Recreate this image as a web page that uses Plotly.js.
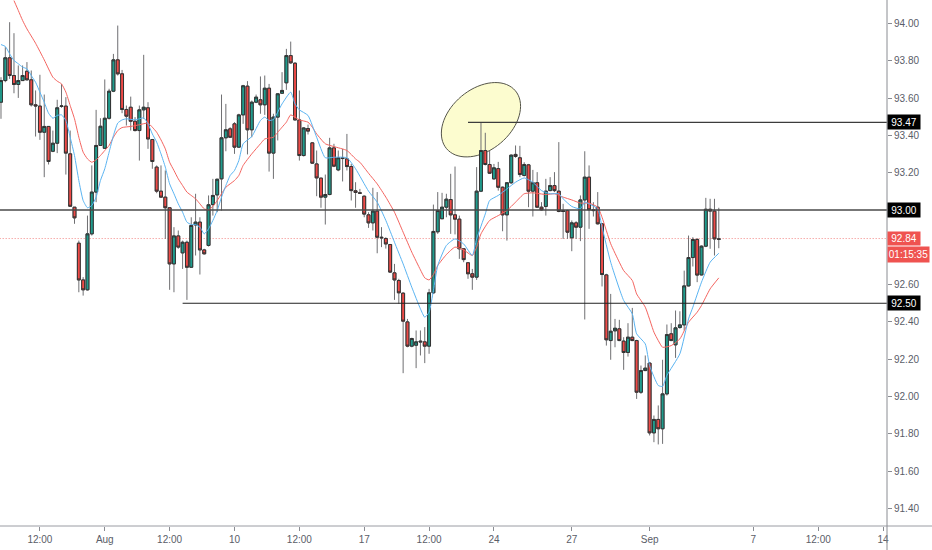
<!DOCTYPE html>
<html><head><meta charset="utf-8">
<script src="https://cdn.plot.ly/plotly-3.0.1.min.js"></script>
<style>html,body{margin:0;padding:0;background:#fff}</style></head>
<body><div id="chart" style="width:932px;height:550px"></div>
<script>
const open=[93.578,93.694,93.816,93.721,93.673,93.694,93.744,93.698,93.564,93.557,
93.417,93.448,93.315,93.358,93.555,93.557,93.301,93.015,92.822,92.625,
92.572,92.872,93.096,93.346,93.331,93.492,93.637,93.805,93.730,93.539,
93.551,93.476,93.426,93.537,93.548,93.378,93.230,93.101,93.069,93.012,
92.711,92.861,92.770,92.827,92.693,92.920,92.935,92.786,92.810,93.029,
93.081,93.167,93.387,93.435,93.462,93.337,93.510,93.664,93.430,93.578,
93.591,93.564,93.653,93.305,93.498,93.626,93.682,93.828,93.787,93.483,
93.292,93.437,93.360,93.247,93.171,93.069,93.083,93.333,93.215,93.280,
93.274,93.233,93.103,93.092,93.074,92.974,92.931,92.994,92.854,92.847,
92.815,92.663,92.622,92.554,92.400,92.270,92.275,92.297,92.293,92.270,
92.556,92.883,92.953,93.015,93.056,92.974,92.951,92.792,92.717,92.658,
92.640,93.101,93.319,93.244,93.167,93.222,93.122,92.974,93.146,93.298,
93.280,93.185,93.242,93.101,93.146,93.015,93.019,93.104,93.131,93.101,
92.997,92.997,92.851,92.931,92.908,93.054,93.176,93.001,93.015,92.926,
92.652,92.300,92.352,92.363,92.297,92.236,92.318,92.300,92.023,92.139,
92.179,91.805,91.877,91.827,92.014,92.336,92.277,92.370,92.384,92.593,
92.745,92.842,92.652,92.806,93.004,92.994,92.845];
const high=[93.712,93.873,94.007,93.948,93.775,93.775,93.793,93.748,93.641,93.725,
93.619,93.448,93.426,93.591,93.676,93.605,93.426,93.015,92.836,92.640,
92.970,93.239,93.537,93.492,93.700,93.650,93.837,93.989,93.751,93.560,
93.608,93.498,93.560,93.832,93.578,93.381,93.239,93.239,93.212,93.015,
92.908,92.890,92.836,92.836,92.961,93.087,92.961,92.792,93.078,93.167,
93.167,93.619,93.569,93.444,93.471,93.516,93.671,93.691,93.587,93.619,
93.716,93.721,93.676,93.516,93.626,93.739,93.864,93.903,93.793,93.641,
93.444,93.458,93.364,93.319,93.172,93.190,93.387,93.355,93.319,93.328,
93.408,93.247,93.149,93.113,93.078,92.988,93.119,93.096,92.908,92.854,
92.818,92.711,92.631,92.559,92.416,92.315,92.354,92.354,92.372,92.577,
93.029,93.096,93.092,93.087,93.194,93.233,92.970,92.792,92.717,92.684,
93.230,93.467,93.414,93.319,93.247,93.258,93.126,93.149,93.298,93.346,
93.344,93.256,93.247,93.215,93.203,93.042,93.167,93.176,93.203,93.364,
93.033,93.001,92.944,92.940,93.078,93.315,93.239,93.042,93.096,92.929,
92.658,92.550,92.416,92.411,92.318,92.393,92.475,92.304,92.166,92.220,
92.184,91.898,91.952,92.197,92.386,92.393,92.461,92.457,92.675,92.863,
92.854,92.849,92.810,93.065,93.060,93.060,93.012];
const low=[93.489,93.685,93.703,93.626,93.601,93.694,93.694,93.555,93.394,93.376,
93.176,93.244,93.310,93.305,93.548,93.190,93.020,92.926,92.559,92.541,
92.568,92.863,93.042,93.346,93.328,93.485,93.632,93.721,93.519,93.453,
93.426,93.421,93.265,93.489,93.328,93.221,93.090,93.065,92.845,92.572,
92.559,92.792,92.684,92.518,92.690,92.756,92.654,92.761,92.804,92.970,
92.988,92.997,93.315,93.387,93.301,93.333,93.462,93.298,93.390,93.573,
93.516,93.510,93.206,93.167,93.373,93.623,93.644,93.784,93.480,93.265,
93.287,93.405,93.247,93.074,93.012,92.922,93.079,93.230,93.208,93.153,
93.212,93.051,93.012,93.087,92.961,92.904,92.890,92.768,92.801,92.793,
92.663,92.518,92.497,92.125,92.264,92.264,92.152,92.220,92.179,92.229,
92.550,92.872,92.953,92.961,92.872,92.869,92.738,92.720,92.631,92.572,
92.625,93.096,93.239,93.194,93.162,93.104,92.886,92.836,93.140,93.280,
93.176,93.180,93.015,92.965,93.012,92.997,92.970,93.101,93.096,92.988,
92.845,92.845,92.779,92.845,92.833,92.413,92.899,92.965,92.922,92.590,
92.273,92.197,92.264,92.297,92.143,92.214,92.297,91.987,92.014,92.136,
91.791,91.755,91.743,91.746,92.005,92.297,92.207,92.363,92.354,92.590,
92.697,92.613,92.649,92.801,92.792,92.756,92.795];
const close=[93.694,93.816,93.721,93.673,93.694,93.721,93.698,93.564,93.558,93.417,
93.448,93.260,93.358,93.548,93.558,93.305,93.020,92.958,92.625,92.572,
92.872,93.096,93.346,93.449,93.492,93.637,93.805,93.730,93.539,93.503,
93.476,93.426,93.537,93.551,93.381,93.260,93.101,93.069,93.012,92.711,
92.861,92.801,92.827,92.693,92.917,92.935,92.786,92.765,93.028,93.078,
93.165,93.387,93.430,93.390,93.337,93.510,93.666,93.430,93.578,93.605,
93.564,93.653,93.305,93.498,93.623,93.641,93.828,93.789,93.483,93.292,
93.440,93.423,93.251,93.172,93.069,93.083,93.333,93.235,93.280,93.276,
93.233,93.104,93.094,93.090,92.978,92.931,92.994,92.854,92.851,92.818,
92.667,92.625,92.556,92.404,92.270,92.311,92.293,92.293,92.270,92.556,
92.885,92.997,93.015,93.058,92.974,92.951,92.792,92.734,92.658,92.640,
93.101,93.319,93.244,93.197,93.226,93.122,92.974,93.146,93.294,93.287,
93.190,93.244,93.101,93.146,93.015,93.001,93.101,93.131,93.104,92.992,
92.992,92.881,92.931,92.908,93.054,93.176,93.001,92.997,92.926,92.654,
92.304,92.350,92.366,92.300,92.236,92.318,92.300,92.023,92.139,92.152,
91.805,91.877,91.827,92.014,92.332,92.300,92.368,92.384,92.593,92.745,
92.842,92.651,92.806,93.004,92.994,92.845,92.843];

const slowBars=[3,4,5,6,8,10,12,13,14,15,16,17,18,19,20,21,22,23,24,25,26,27,28,30,32,34,35,36,37,38,39,40,41,42,43,44,45,46,47,48,49,50,51,52,54,55,56,58,60,61,63,64,65,66,67,69,71,72,73,75,77,80,82,83,85,87,89,91,93,95,97,98,99,100,101,103,105,107,109,110,111,113,115,117,119,121,123,126,128,130,132,134,136,138,139,141,143,144,146,147,149,151,152,153,155,157,159,161,162,164,166];
const slowMA=[94.123,94.070,94.016,93.971,93.894,93.805,93.712,93.691,93.676,93.632,93.560,93.489,93.390,93.310,93.274,93.256,93.269,93.292,93.319,93.346,93.390,93.426,93.442,93.448,93.457,93.466,93.444,93.417,93.376,93.328,93.256,93.212,93.167,93.131,93.096,93.078,93.060,93.033,93.006,93.001,93.019,93.051,93.087,93.122,93.158,93.185,93.239,93.301,93.355,93.381,93.390,93.417,93.444,93.471,93.510,93.483,93.471,93.444,93.408,93.355,93.340,93.319,93.274,93.256,93.197,93.140,93.069,92.988,92.881,92.774,92.679,92.636,92.625,92.654,92.702,92.761,92.801,92.786,92.756,92.801,92.872,92.944,92.970,92.997,93.042,93.087,93.092,93.083,93.087,93.069,93.054,93.037,93.037,93.015,92.961,92.819,92.720,92.675,92.622,92.550,92.479,92.345,92.300,92.264,92.273,92.309,92.398,92.452,92.488,92.577,92.636];
const fastBars=[0,1,2,3,4,5,6,7,8,9,10,11,12,13,14,15,16,17,18,19,20,21,22,23,24,25,26,27,28,29,31,33,34,35,36,37,38,39,40,41,42,43,44,45,46,47,48,49,50,51,52,53,54,55,56,58,60,61,62,63,65,67,68,69,71,73,75,77,80,82,85,87,89,91,93,95,97,98,99,100,101,103,105,107,109,110,112,113,115,117,119,121,123,125,127,129,130,132,134,135,136,138,139,141,144,146,147,149,150,152,153,154,157,159,160,162,164,166];
const fastMA=[93.887,93.877,93.837,93.802,93.784,93.766,93.757,93.721,93.685,93.632,93.578,93.519,93.492,93.507,93.510,93.480,93.390,93.292,93.158,93.051,93.012,93.024,93.069,93.158,93.221,93.310,93.399,93.466,93.483,93.489,93.483,93.494,93.462,93.408,93.364,93.301,93.230,93.140,93.087,93.033,92.988,92.935,92.922,92.922,92.908,92.872,92.899,92.944,92.997,93.069,93.131,93.185,93.212,93.265,93.355,93.394,93.480,93.498,93.480,93.485,93.569,93.632,93.569,93.537,93.507,93.390,93.280,93.283,93.280,93.221,93.101,93.042,92.944,92.827,92.711,92.586,92.470,92.425,92.452,92.568,92.702,92.810,92.845,92.818,92.756,92.845,92.979,93.051,93.078,93.113,93.149,93.172,93.149,93.104,93.087,93.087,93.060,93.019,93.006,93.042,93.033,93.006,92.908,92.720,92.515,92.443,92.336,92.282,92.166,92.059,92.054,92.113,92.229,92.416,92.479,92.613,92.720,92.768];

const yTicks=[91.4,91.6,91.8,92.0,92.2,92.4,92.6,92.8,93.0,93.2,93.4,93.6,93.8,94.0];
const hiddenTicks=[92.8,93.0]; // covered by the price tags in the reference
const xTickBars=[9,24,39,54,69,84,99,114,132,150,174,189,204];
const xTickText=['12:00','Aug','12:00','10','12:00','17','12:00','24','27','Sep','7','12:00','14'];
const levels=[93.47,93.00,92.50];
const levelStart=[108,-1,42];
const lastPrice=92.847, lastLabel='92.84', countdown='01:15:35';

const bars=open.map((_,i)=>i);
const bodyHi=open.map((o,i)=>Math.max(o,close[i]));
const bodyLo=open.map((o,i)=>Math.min(o,close[i]));
const GREEN='#1f9c8d', RED='#ef4a47', WICK='#6f6f72', EDGE='#333333';
const font="'Liberation Sans',Arial,sans-serif";
const tickColor='#5a5d68';

const traces=[
 {type:'candlestick',x:bars,open,high,low,close,whiskerwidth:0,
  increasing:{line:{color:WICK,width:1},fillcolor:WICK},decreasing:{line:{color:WICK,width:1},fillcolor:WICK},hoverinfo:'skip'},
 {type:'scatter',mode:'lines',x:slowBars,y:slowMA,line:{color:'#f4645f',width:1,shape:'spline',smoothing:0.5},hoverinfo:'skip'},
 {type:'scatter',mode:'lines',x:fastBars,y:fastMA,line:{color:'#5ab4f2',width:1,shape:'spline',smoothing:0.5},hoverinfo:'skip'},
 {type:'candlestick',x:bars,open,high:bodyHi,low:bodyLo,close,whiskerwidth:0,
  increasing:{line:{color:EDGE,width:1},fillcolor:GREEN},decreasing:{line:{color:EDGE,width:1},fillcolor:RED},hoverinfo:'skip'}
];

// tilted highlight ellipse, drawn in axis units
const cx=111, cy=93.484, pxX=4.33, pxY=186.5, a=45, b=30.5, th=40*Math.PI/180;
let ell='';
for(let k=0;k<=72;k++){const t=k/72*2*Math.PI;
 const dx=a*Math.cos(t)*Math.cos(th)-b*Math.sin(t)*Math.sin(th);
 const dy=a*Math.cos(t)*Math.sin(th)+b*Math.sin(t)*Math.cos(th);
 ell+=(k?'L':'M')+(cx+dx/pxX).toFixed(3)+','+(cy+dy/pxY).toFixed(4)+' ';}
ell+='Z';

const xEnd=204.9;
const shapes=[
 {type:'path',path:ell,xref:'x',yref:'y',fillcolor:'#fcfccf',line:{color:'#55554a',width:1},layer:'below'},
 {type:'line',xref:'x',yref:'y',x0:-1,x1:xEnd,y0:lastPrice,y1:lastPrice,line:{color:'#ef5350',width:1,dash:'1px,2px'},opacity:0.7,layer:'below'},
 {type:'line',xref:'x',yref:'y',x0:levelStart[0],x1:xEnd,y0:levels[0],y1:levels[0],line:{color:'#3c3c3c',width:1.3},layer:'above'},
 {type:'line',xref:'x',yref:'y',x0:levelStart[1],x1:xEnd,y0:levels[1],y1:levels[1],line:{color:'#4a4a4a',width:1.5},layer:'above'},
 {type:'line',xref:'x',yref:'y',x0:levelStart[2],x1:xEnd,y0:levels[2],y1:levels[2],line:{color:'#222',width:1},layer:'above'},
 {type:'line',xref:'paper',yref:'paper',x0:0,x1:932/887,y0:0,y1:0,line:{color:'#9a9ca3',width:1}},
 {type:'line',xref:'paper',yref:'paper',x0:1,x1:1,y0:-24/526,y1:1,line:{color:'#8a8c92',width:1}}
];
function tag(text,price,bg,w,h,shiftY){return {xref:'paper',yref:'y',x:1,y:price,xanchor:'left',yanchor:'middle',xshift:0,yshift:shiftY||0,
 text:text,showarrow:false,bgcolor:bg,width:w,height:h,align:'center',borderpad:0,font:{family:font,size:10,color:'#fff'}};}
const annotations=[
 tag(levels[0].toFixed(2),levels[0],'#000',32,14),
 tag(levels[1].toFixed(2),levels[1],'#000',32,14),
 tag(levels[2].toFixed(2),levels[2],'#000',32,14),
 tag(lastLabel,lastPrice,'#ef5350',32,13),
 tag(countdown,lastPrice,'#ef5350',41,15,-16)
];
const layout={width:932,height:550,margin:{l:0,r:45,t:0,b:24,pad:0},paper_bgcolor:'#fff',plot_bgcolor:'#fff',
 showlegend:false,boxgap:0.04,boxmode:'overlay',
 xaxis:{type:'linear',range:[-0.23,xEnd],tickmode:'array',tickvals:xTickBars,ticktext:xTickText,showgrid:false,zeroline:false,
  showline:false,ticks:'outside',ticklen:4,tickwidth:1,tickcolor:'#8a8c92',tickfont:{family:font,size:10,color:tickColor},rangeslider:{visible:false}},
 yaxis:{side:'right',range:[91.3056,94.126],tickmode:'array',tickvals:yTicks,ticktext:yTicks.map(v=>hiddenTicks.includes(v)?'':v.toFixed(2)),showgrid:false,zeroline:false,
  showline:false,ticks:'outside',ticklen:4,tickwidth:1,tickcolor:'#8a8c92',tickfont:{family:font,size:10,color:tickColor}},
 shapes,annotations};
Plotly.newPlot('chart',traces,layout,{displayModeBar:false,staticPlot:true});
</script></body></html>
